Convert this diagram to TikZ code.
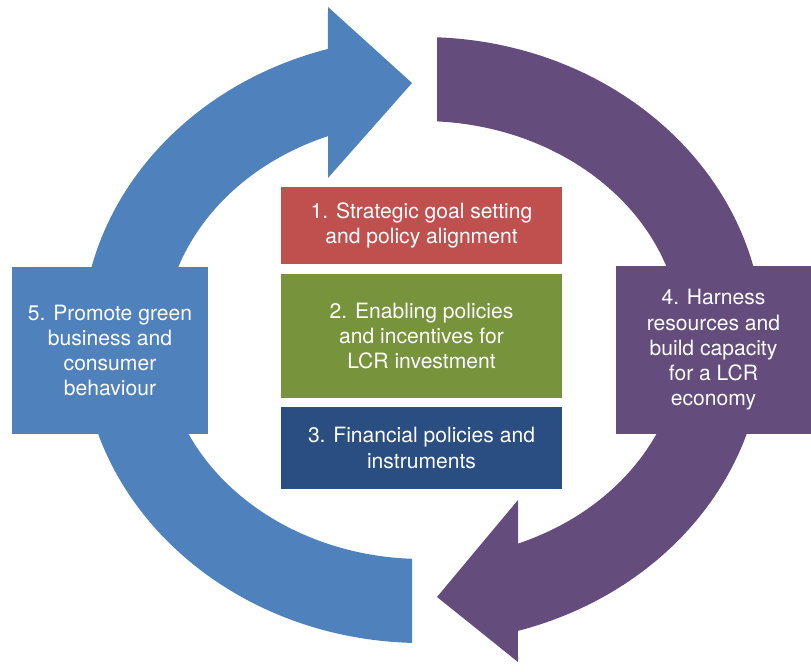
\documentclass[tikz,border=0pt]{standalone}
\usepackage{fontspec}
\setmainfont{TeX Gyre Heros}
\usetikzlibrary{positioning}
\definecolor{ringblue}{RGB}{79,129,189}
\definecolor{ringpurple}{RGB}{100,76,124}
\definecolor{goalred}{RGB}{192,80,77}
\definecolor{policygreen}{RGB}{119,147,60}
\definecolor{financeblue}{RGB}{42,77,130}

\begin{document}
\begin{tikzpicture}[x=0.03cm,y=0.03cm,
    stage/.style={fill=#1,text=white,minimum width=8.43cm,inner sep=0pt,outer sep=0pt,
        align=center,font=\fontsize{18}{21.6}\selectfont},
    sidebox/.style={stage=#1,minimum width=5.88cm,minimum height=5.01cm}]
    \useasboundingbox (0,0) rectangle (811,671);
    % blue arrow: from the bottom round the left side, head at the top
    \fill[ringblue] (412,28.1) arc [start angle=268.24, end angle=106.09, x radius=341, y radius=303]
        -- (328,664) -- (412,588) -- (328,493) -- (328,534.9)
        arc [start angle=111.40, end angle=267.68, x radius=259, y radius=219] -- cycle;
    % purple arrow: from the top round the right side, head at the bottom
    \fill[ringpurple] (437,633.7) arc [start angle=87.56, end angle=-73.74, x radius=341, y radius=303]
        -- (518,9) -- (437,74) -- (518,171) -- (518,127.4)
        arc [start angle=-68.36, end angle=86.79, x radius=259, y radius=219] -- cycle;
    % the three stages in the middle
    \node[stage=goalred,minimum height=2.31cm] (goal) at (421.5,445.5) {1. Strategic goal setting\\and policy alignment};
    \node[stage=policygreen,minimum height=3.72cm,below=0.3cm of goal] (enable) {2. Enabling policies\\and incentives for\\LCR investment};
    \node[stage=financeblue,minimum height=2.46cm,below=0.27cm of enable] (finance) {3. Financial policies and\\instruments};
    % boxes sitting on the ring
    \node[sidebox=ringblue] (promote) at (110,320.5) {5. Promote green\\business and\\consumer\\behaviour};
    \node[sidebox=ringpurple] (harness) at (713.5,321) {4. Harness\\resources and\\build capacity\\for a LCR\\economy};
\end{tikzpicture}
\end{document}
